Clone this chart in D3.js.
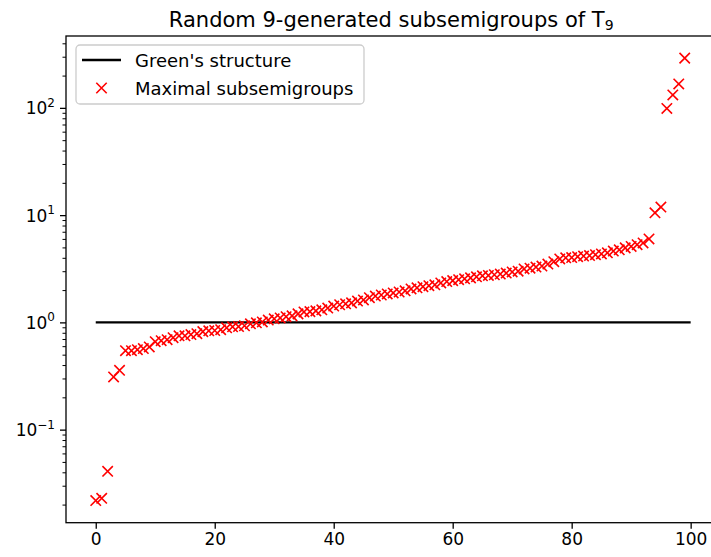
<!DOCTYPE html>
<html>
<head>
<meta charset="utf-8">
<script src="https://cdn.jsdelivr.net/npm/d3@7"></script>
<style>
  body { margin: 0; background: #fff; }
  svg { display: block; overflow: hidden; }
  text { font-family: "DejaVu Sans", sans-serif; fill: #000; }
</style>
</head>
<body>
<div id="chart"></div>
<script>
// Chart data
var chartTitle = "Random 9-generated subsemigroups of T";
var titleSub = "9";
var seriesNames = ["Green's structure", "Maximal subsemigroups"];

// Green's structure is the constant 1 reference line
var greenX = [0, 100];
var greenY = [1, 1];

// Sorted timing ratios for the 100 random subsemigroups (index = x)
var maximalY = [
  0.0218, 0.0229, 0.0409, 0.310, 0.357, 0.545, 0.545, 0.556, 0.57, 0.59,
  0.66, 0.675, 0.69, 0.72, 0.75, 0.75, 0.77, 0.785, 0.82, 0.835,
  0.84, 0.855, 0.89, 0.91, 0.915, 0.93, 0.97, 0.99, 1.01, 1.05,
  1.08, 1.10, 1.13, 1.15, 1.20, 1.25, 1.26, 1.28, 1.31, 1.36,
  1.42, 1.46, 1.49, 1.52, 1.58, 1.62, 1.70, 1.76, 1.80, 1.84,
  1.88, 1.92, 1.97, 2.05, 2.10, 2.15, 2.20, 2.24, 2.33, 2.40,
  2.45, 2.50, 2.55, 2.60, 2.66, 2.72, 2.74, 2.78, 2.82, 2.88,
  2.95, 3.00, 3.15, 3.20, 3.28, 3.35, 3.50, 3.68, 3.90, 4.00,
  4.02, 4.10, 4.15, 4.20, 4.28, 4.35, 4.45, 4.62, 4.75, 4.95,
  5.10, 5.30, 5.50, 6.00, 10.5, 11.9, 98.7, 132, 167, 291
];

var xTicks = [0, 20, 40, 60, 80, 100];
var yTicks = [0.1, 1, 10, 100];

// SVG area
var svgWidth = 711;
var svgHeight = 557;

// Axes box (the right edge runs past the picture, like the original)
var margin = { top: 36, left: 66 };
var chartWidth = 720.4 - margin.left;
var chartHeight = 522.7 - margin.top;

var svg = d3.select("#chart")
  .append("svg")
  .attr("width", svgWidth)
  .attr("height", svgHeight);

var chartGroup = svg.append("g")
  .attr("transform", `translate(${margin.left}, ${margin.top})`);

// Scales with matplotlib-like 5% margins
var xScale = d3.scaleLinear()
  .domain([-5, 105])
  .range([0, chartWidth]);

var yMin = d3.min(maximalY), yMax = d3.max(maximalY);
var lo = Math.log10(yMin), hi = Math.log10(yMax), pad = (hi - lo) * 0.05;
var yScale = d3.scaleLog()
  .domain([Math.pow(10, lo - pad), Math.pow(10, hi + pad)])
  .range([chartHeight, 0]);

// Minor ticks for the log axis
var minorTicks = yScale.ticks().filter(function(t) {
  return yTicks.indexOf(t) < 0;
});

// Axes
var bottomAxis = d3.axisBottom(xScale)
  .tickValues(xTicks)
  .tickSize(6)
  .tickPadding(4)
  .tickFormat(d3.format("d"));

var leftAxis = d3.axisLeft(yScale)
  .tickValues(yTicks)
  .tickSize(6)
  .tickPadding(4)
  .tickFormat("");

var leftMinor = d3.axisLeft(yScale)
  .tickValues(minorTicks)
  .tickSize(3.5)
  .tickFormat("");

var xAxisG = chartGroup.append("g")
  .attr("transform", "translate(0, " + chartHeight + ")")
  .call(bottomAxis);
xAxisG.select(".domain").remove();
xAxisG.selectAll("line").attr("stroke", "#000").attr("stroke-width", 1.3);
xAxisG.selectAll("text")
  .style("font-size", "17px")
  .style("font-family", "DejaVu Sans")
  .attr("fill", "#000");

var yAxisG = chartGroup.append("g").call(leftAxis);
yAxisG.select(".domain").remove();
yAxisG.selectAll("line").attr("stroke", "#000").attr("stroke-width", 1.3);

var yMinorG = chartGroup.append("g").call(leftMinor);
yMinorG.select(".domain").remove();
yMinorG.selectAll("line").attr("stroke", "#000").attr("stroke-width", 1);

// Log tick labels as 10 with a superscript exponent
yTicks.forEach(function(t) {
  var exp = Math.round(Math.log10(t));
  var label = chartGroup.append("text")
    .attr("x", -11)
    .attr("y", yScale(t) + 6.5)
    .attr("text-anchor", "end")
    .style("font-size", "17px");
  label.append("tspan").text("10");
  label.append("tspan")
    .attr("dy", -7.5)
    .style("font-size", "12px")
    .text(String(exp).replace("-", "\u2212"));
});

// Frame
chartGroup.append("rect")
  .attr("x", 0)
  .attr("y", 0)
  .attr("width", chartWidth)
  .attr("height", chartHeight)
  .attr("fill", "none")
  .attr("stroke", "#000")
  .attr("stroke-width", 1.3);

// Green's structure line
var drawLine = d3.line()
  .x(function(d, i) { return xScale(greenX[i]); })
  .y(function(d) { return yScale(d); });

chartGroup.append("path")
  .attr("d", drawLine(greenY))
  .attr("fill", "none")
  .attr("stroke", "#000")
  .attr("stroke-width", 2.4);

// Maximal subsemigroups as red x markers
var m = 5.2;
var crossPath = `M${-m},${-m}L${m},${m}M${-m},${m}L${m},${-m}`;

chartGroup.append("g")
  .selectAll("path")
  .data(maximalY)
  .enter()
  .append("path")
  .attr("transform", function(d, i) {
    return `translate(${xScale(i)}, ${yScale(d)})`;
  })
  .attr("d", crossPath)
  .attr("fill", "none")
  .attr("stroke", "#ff0000")
  .attr("stroke-width", 1.6);

// Title
var title = svg.append("text")
  .attr("x", margin.left + chartWidth / 2 - 2)
  .attr("y", 27)
  .attr("text-anchor", "middle")
  .style("font-size", "21px");
title.append("tspan").text(chartTitle);
title.append("tspan")
  .attr("dy", 3)
  .style("font-size", "14px")
  .text(titleSub);

// Legend
var legend = svg.append("g").attr("transform", "translate(76, 45)");

legend.append("rect")
  .attr("width", 288)
  .attr("height", 59)
  .attr("rx", 4)
  .attr("fill", "#fff")
  .attr("fill-opacity", 0.8)
  .attr("stroke", "#cccccc")
  .attr("stroke-width", 1.3);

legend.append("line")
  .attr("x1", 6)
  .attr("x2", 45)
  .attr("y1", 15)
  .attr("y2", 15)
  .attr("stroke", "#000")
  .attr("stroke-width", 2.4);

legend.append("path")
  .attr("transform", "translate(25.5, 43)")
  .attr("d", crossPath)
  .attr("fill", "none")
  .attr("stroke", "#ff0000")
  .attr("stroke-width", 1.6);

legend.selectAll(".legtext")
  .data(seriesNames)
  .enter()
  .append("text")
  .attr("class", "legtext")
  .attr("x", 59)
  .attr("y", function(d, i) { return 21.5 + i * 28; })
  .style("font-size", "18px")
  .text(function(d) { return d; });
</script>
</body>
</html>
